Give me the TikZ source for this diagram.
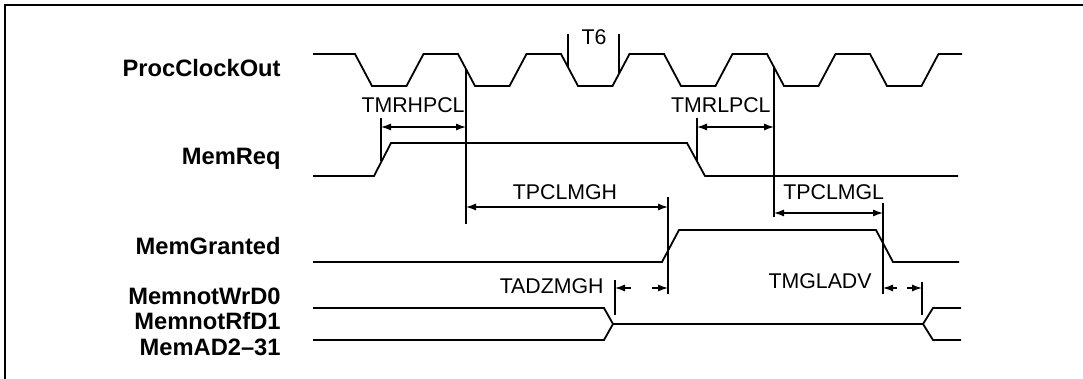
\documentclass[tikz,border=0pt]{standalone}
\usepackage{fontspec}
\setmainfont{Liberation Sans}
\usetikzlibrary{arrows.meta}

\begin{document}
\begin{tikzpicture}[x=0.5pt, y=-0.5pt,
    wave/.style={line width=0.9pt, line join=miter},
    tick/.style={line width=0.7pt},
    dim/.style={line width=0.6pt, {Latex[length=5pt,width=3.5pt]}-{Latex[length=5pt,width=3.5pt]}},
    half/.style={line width=0.6pt, -{Latex[length=5pt,width=3.5pt]}},
    sig/.style={font=\fontsize{11.85}{14}\selectfont\bfseries, anchor=base east, inner sep=0pt},
    tm/.style={font=\fontsize{10.66}{13}\selectfont, inner sep=0pt}]
  \useasboundingbox (0,0) rectangle (1083,379);
  % frame (top and left only)
  \draw[line width=1pt] (1083,5) -- (5,5) -- (5,379);

  % signal names
  \node[sig] (clk)  at (281,77)  {ProcClockOut};
  \node[sig] (req)  at (281,165) {MemReq};
  \node[sig] (gnt)  at (281,255) {MemGranted};
  \node[sig] (wrd0) at (281,305) {MemnotWrD0};
  \node[sig] (rfd1) at (281,330) {MemnotRfD1};
  \node[sig] (ad)   at (281,356) {MemAD2--31};

  % waveforms
  \draw[wave] (313,54) -- (355,54)
    \foreach \f in {355,458,561,664,767} { -- (\f+17,86) -- (\f+51.5,86) -- (\f+68.5,54) -- (\f+103,54) }
    -- (887,86) -- (921.5,86) -- (938.5,54) -- (962,54);
  \draw[wave] (313,176) -- (374,176) -- (391,143) -- (687,143) -- (705,176) -- (958,176);
  \draw[wave] (313,262) -- (662,262) -- (679,230) -- (876,230) -- (893,262) -- (959,262);
  \draw[wave] (313,308) -- (604,308) -- (613,324) -- (923,324) -- (933,308) -- (961,308);
  \draw[wave] (313,340) -- (604,340) -- (613,324);
  \draw[wave] (923,324) -- (933,340) -- (961,340);

  % reference lines
  \coordinate (fa) at (466,69);   \coordinate (fa') at (466,224);
  \coordinate (fb) at (774,67);   \coordinate (fb') at (774,217);
  \coordinate (t6a) at (568,34);  \coordinate (t6a') at (568,67);
  \coordinate (t6b) at (619,34);  \coordinate (t6b') at (619,73);
  \coordinate (rqh) at (381,118); \coordinate (rqh') at (381,161);
  \coordinate (rql) at (697,118); \coordinate (rql') at (697,161);
  \coordinate (mgh) at (668,197); \coordinate (mgh') at (668,294);
  \coordinate (mgl) at (883,203); \coordinate (mgl') at (883,294);
  \coordinate (adz) at (615,280); \coordinate (adz') at (615,315);
  \coordinate (adv) at (922,282); \coordinate (adv') at (922,315);
  \foreach \a in {fa,fb,t6a,t6b,rqh,rql,mgh,mgl,adz,adv}
    \draw[tick] (\a) -- (\a');

  % timing arrows
  \draw[dim] (rqh |- 0,127) -- (fa |- 0,127);
  \draw[dim] (rql |- 0,127) -- (fb |- 0,127);
  \draw[dim] (fa |- 0,207) -- (mgh |- 0,207);
  \draw[dim] (fb |- 0,213) -- (mgl |- 0,213);
  \draw[half] (631,288) -- (adz |- 0,288);
  \draw[half] (652,288) -- (mgh |- 0,288);
  \draw[half] (897,288) -- (mgl |- 0,288);
  \draw[half] (907,288) -- (adv |- 0,288);

  % timing names
  \node[tm, anchor=base] (t6) at (594,45) {T6};
  \node[tm, anchor=base east] (mrhpcl) at (465,113) {TMRHPCL};
  \node[tm, anchor=base east] (mrlpcl) at (771,113) {TMRLPCL};
  \node[tm, anchor=base] (pclmgh) at (565,200) {TPCLMGH};
  \node[tm, anchor=base west] (pclmgl) at (783,200) {TPCLMGL};
  \node[tm, anchor=base east] (adzmgh) at (604,294) {TADZMGH};
  \node[tm, anchor=base east] (mgladv) at (872,289) {TMGLADV};
\end{tikzpicture}
\end{document}
